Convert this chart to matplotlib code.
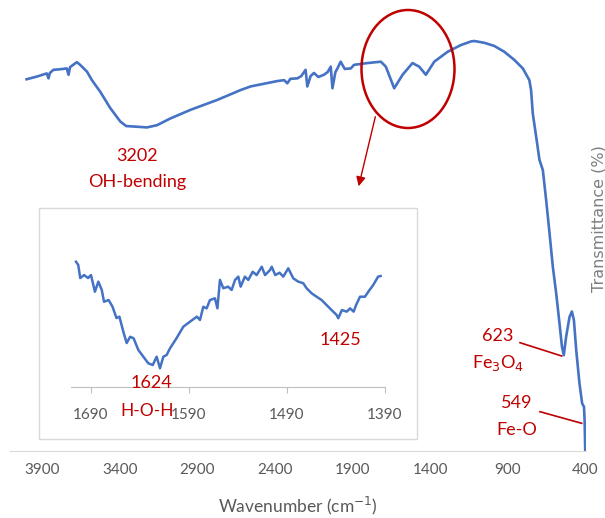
import matplotlib.pyplot as plt
from matplotlib.patches import Ellipse, Rectangle

# main FTIR spectrum
wavenumber = [4000, 3934, 3870, 3859, 3850, 3827, 3790, 3741, 3730, 3720, 3676, 3655,
              3611, 3579, 3525, 3461, 3396, 3358, 3310, 3224, 3159, 3073, 2944, 2772,
              2621, 2557, 2384, 2340, 2320, 2300, 2255, 2230, 2202, 2191, 2170, 2148,
              2120, 2084, 2060, 2040, 2029, 2010, 1997, 1976, 1950, 1911, 1890, 1803,
              1717, 1685, 1631, 1577, 1513, 1470, 1427, 1373, 1287, 1201, 1136, 1115,
              1050, 986, 921, 857, 802, 760, 749, 738, 716, 695, 673, 652, 630, 609,
              587, 566, 550, 538, 523, 501, 486, 473, 458, 437, 420, 408, 404, 400]
transmittance = [82.6, 83.2, 83.9, 82.8, 84.0, 84.7, 84.8, 85.0, 83.6, 85.3, 86.4, 85.8,
                 84.3, 82.4, 79.8, 76.2, 73.2, 72.2, 72.1, 71.9, 72.4, 73.9, 75.8, 78.0,
                 80.2, 81.0, 82.2, 82.4, 81.7, 82.7, 82.8, 83.3, 84.7, 81.0, 83.3, 84.0,
                 83.1, 83.6, 84.2, 85.4, 80.6, 84.2, 85.0, 86.5, 84.9, 85.0, 85.8, 86.2,
                 86.5, 85.4, 80.6, 83.6, 86.2, 85.4, 83.6, 86.5, 88.7, 90.2, 91.0, 91.1,
                 90.7, 90.0, 88.7, 86.9, 85.0, 82.4, 80.2, 75.0, 69.8, 64.7, 62.4, 55.8,
                 48.4, 41.0, 35.0, 28.4, 23.2, 21.3, 25.4, 29.8, 31.0, 29.1, 22.4, 15.0,
                 10.6, 9.8, 6.9, 0.2]
main_ticks = [3900, 3400, 2900, 2400, 1900, 1400, 900, 400]

# zoomed region 1710-1390 cm-1
inset_wn = [1705.3, 1703, 1701, 1697, 1693, 1690, 1686, 1682.5, 1679, 1676.7, 1672, 1668,
            1664, 1661, 1657, 1653.6, 1650, 1646.5, 1641.7, 1636.6, 1631.5, 1627, 1623,
            1619.6, 1616.2, 1612.8, 1609.4, 1602.6, 1595.8, 1589, 1582, 1578.8, 1575.4,
            1572, 1568.6, 1563.5, 1561, 1558.4, 1555, 1550, 1546.5, 1543, 1539.7, 1537.3,
            1533, 1529.5, 1525, 1521, 1515.8, 1512.4, 1507.3, 1505.6, 1502, 1497.6,
            1493.8, 1488.7, 1483.6, 1478.5, 1473.4, 1470, 1464.9, 1459.8, 1454.7, 1449.6,
            1444.5, 1439.4, 1437.7, 1434, 1429, 1425.7, 1422, 1419.5, 1415.5, 1410.5,
            1407, 1402, 1397, 1394.5]
inset_t = [79.8, 77.7, 69.4, 71.3, 69.4, 71.3, 60.7, 67.1, 61.8, 54.3, 55.4, 51.1,
           43.9, 44.8, 35.2, 28.0, 32.0, 31.0, 23.6, 19.3, 15.1, 14.0, 19.3,
           11.9, 19.3, 20.4, 24.6, 31.2, 38.4, 41.6, 44.8, 42.7, 51.1,
           50.1, 55.4, 56.5, 50.1, 68.2, 62.9, 63.9, 61.8, 68.2, 70.3, 63.9,
           70.3, 68.2, 73.4, 71.3, 76.6, 71.3, 74.5, 76.6, 71.3, 72.8,
           70.3, 75.6, 69.2, 67.1, 66.1, 62.9, 59.7, 57.5, 55.4, 52.2,
           49.0, 45.9, 43.8, 49.0, 48.0, 50.1, 48.0, 52.2, 57.5, 57.5,
           60.7, 65.0, 70.3, 70.7]
inset_ticks = [1690, 1590, 1490, 1390]

W, H = 605, 518
BLUE = '#4472C4'
RED = '#C00000'
GREY = '#595959'
plt.rcParams['font.family'] = ['Lato', 'DejaVu Sans']


def px(x, y):
    return x / W, 1 - y / H


fig = plt.figure(figsize=(W / 100, H / 100), dpi=100)

ax = fig.add_axes([10 / W, 67 / H, 576 / W, 446 / H])
ax.plot(wavenumber, transmittance, color=BLUE, lw=1.9)
ax.set_xlim(4107, 395)
ax.set_ylim(0, 99.1)
ax.set_yticks([])
ax.set_xticks(main_ticks)
ax.set_xticklabels([str(t) for t in main_ticks])
ax.tick_params(axis='x', length=0, pad=9, labelsize=11, labelcolor=GREY)
for s in ['top', 'left', 'right']:
    ax.spines[s].set_visible(False)
ax.spines['bottom'].set_color('#D9D9D9')

fig.text(*px(298, 506), 'Wavenumber (cm$^{-1}$)', ha='center', va='center',
         fontsize=12.5, color=GREY)
fig.text(*px(599, 219), 'Transmittance (%)', ha='center', va='center', rotation=90,
         fontsize=11.5, color='#7F7F7F', family='DejaVu Sans')

# inset frame and axes
fig.add_artist(Rectangle(px(39, 439), 378 / W, 231 / H, transform=fig.transFigure,
                         fill=False, edgecolor='#D9D9D9', lw=1))
ins = fig.add_axes([71 / W, (H - 387) / H, 314 / W, 157 / H])
ins.plot(inset_wn, inset_t, color=BLUE, lw=1.8)
ins.set_xlim(1710.4, 1390)
ins.set_ylim(0, 100)
ins.set_yticks([])
ins.set_xticks(inset_ticks)
ins.set_xticklabels([str(t) for t in inset_ticks])
ins.tick_params(axis='x', direction='out', length=4, color='#BFBFBF', pad=11,
                labelsize=11, labelcolor=GREY)
for s in ['top', 'left', 'right']:
    ins.spines[s].set_visible(False)
ins.spines['bottom'].set_color('#BFBFBF')
ins.patch.set_alpha(0)

# red annotations
labels = [(137, 156, '3202', 13), (137, 182, 'OH-bending', 13),
          (151, 383, '1624', 13), (147, 411, 'H-O-H', 12.5), (340, 340, '1425', 13),
          (498, 336, '623', 13), (498, 363, 'Fe$_3$O$_4$', 13),
          (517, 403, '549', 13), (517, 430, 'Fe-O', 13)]
for x, y, s, fs in labels:
    fig.text(*px(x, y), s, ha='center', va='center', fontsize=fs, color=RED)

fig.add_artist(Ellipse(px(408, 69), 93 / W, 118 / H, transform=fig.transFigure,
                       fill=False, edgecolor=RED, lw=1.8))
fig.add_artist(plt.Line2D([520 / W, 561.7 / W], [1 - 342.7 / H, 1 - 356 / H],
                          color=RED, lw=1.2))
fig.add_artist(plt.Line2D([540 / W, 581.7 / W], [1 - 411.7 / H, 1 - 423.3 / H],
                          color=RED, lw=1.2))
ax.annotate('', xy=px(358, 189), xycoords='figure fraction',
            xytext=px(376, 114), textcoords='figure fraction',
            arrowprops=dict(arrowstyle='-|>', color=RED, lw=1.0, mutation_scale=14))

fig.savefig('out.png', dpi=100)
